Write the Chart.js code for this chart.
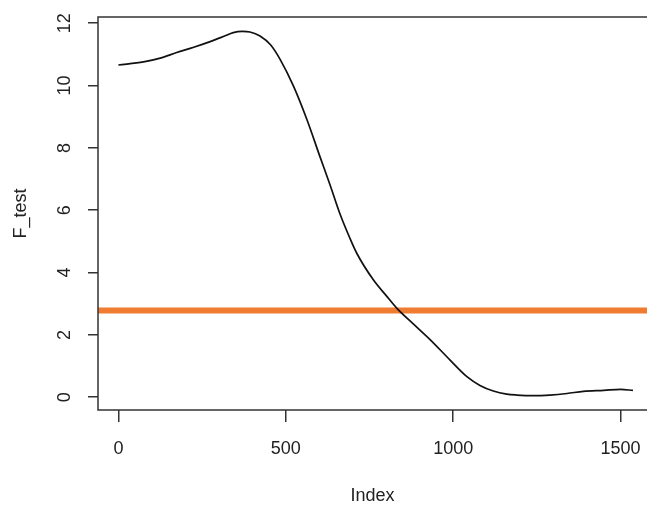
<!DOCTYPE html>
<html>
<head>
<meta charset="utf-8">
<script src="https://cdn.jsdelivr.net/npm/chart.js@4.4.0/dist/chart.umd.min.js"></script>
<style>
  html, body { margin: 0; padding: 0; background: #fff; }
  #wrap { width: 647px; height: 507px; }
</style>
</head>
<body>
<div id="wrap"><canvas id="myChartFtest"></canvas></div>
<script>
// data
const indexValues = [0, 75, 125, 174, 225, 274, 315, 343, 370, 393, 423, 455, 483, 523, 563, 602, 632, 662, 690, 712, 762, 800, 832, 880, 931, 990, 1041, 1080, 1120, 1160, 1190, 1240, 1289, 1340, 1389, 1450, 1500, 1537];
const fTestValues = [10.66, 10.76, 10.88, 11.06, 11.23, 11.41, 11.58, 11.70, 11.74, 11.72, 11.59, 11.30, 10.84, 9.98, 8.91, 7.72, 6.82, 5.88, 5.14, 4.62, 3.76, 3.26, 2.85, 2.36, 1.85, 1.20, 0.66, 0.38, 0.20, 0.10, 0.07, 0.05, 0.07, 0.12, 0.19, 0.22, 0.25, 0.22];
const threshold = 2.78;
const xTicks = [0, 500, 1000, 1500];
const yTicks = [0, 2, 4, 6, 8, 10, 12];

const xMin = -61, xMax = 1579;
const yMin = -0.41, yMax = 12.2;

let lineData = indexValues.map((x, i) => ({ x: x, y: fTestValues[i] }));
let thresholdData = [{ x: xMin, y: threshold }, { x: xMax, y: threshold }];

const axisColor = '#333';
const fontFamily = 'Arial, "Liberation Sans", sans-serif';

// box round the plot (top, left, bottom)
const boxPlugin = {
  id: 'box',
  afterDraw(chart) {
    const { ctx, chartArea } = chart;
    ctx.save();
    ctx.strokeStyle = axisColor;
    ctx.lineWidth = 1.5;
    ctx.beginPath();
    ctx.moveTo(chart.width + 2, chartArea.top);
    ctx.lineTo(chartArea.left, chartArea.top);
    ctx.lineTo(chartArea.left, chartArea.bottom);
    ctx.lineTo(chart.width + 2, chartArea.bottom);
    ctx.stroke();
    ctx.restore();
  }
};

// rotated y tick labels, like base R
const yLabelPlugin = {
  id: 'yLabels',
  afterDraw(chart) {
    const { ctx } = chart;
    const yScale = chart.scales.y;
    ctx.save();
    ctx.fillStyle = '#222';
    ctx.font = '18px ' + fontFamily;
    ctx.textAlign = 'center';
    ctx.textBaseline = 'middle';
    yScale.ticks.forEach(t => {
      const py = yScale.getPixelForValue(t.value);
      ctx.save();
      ctx.translate(65, py);
      ctx.rotate(-Math.PI / 2);
      ctx.fillText(String(t.value), 0, 0);
      ctx.restore();
    });
    ctx.restore();
  }
};

// config block
let config = {
  type: 'line',
  data: {
    datasets: [
      {
        label: 'F_test',
        data: lineData,
        borderColor: '#111',
        borderWidth: 1.7,
        pointRadius: 0,
        cubicInterpolationMode: 'monotone',
        fill: false,
      },
      {
        label: 'threshold',
        data: thresholdData,
        borderColor: '#F07C32',
        borderWidth: 6,
        pointRadius: 0,
        fill: false,
      },
    ],
  },
  options: {
    responsive: true,
    maintainAspectRatio: false,
    animation: false,
    layout: { padding: { top: 17, right: 0, left: 0, bottom: 0 } },
    plugins: {
      legend: { display: false },
      tooltip: { enabled: false },
    },
    scales: {
      x: {
        type: 'linear',
        min: xMin,
        max: xMax,
        afterBuildTicks: scale => { scale.ticks = xTicks.map(v => ({ value: v })); },
        afterFit: scale => {
          scale.height = 97;
          scale.paddingLeft = 0;
          scale.paddingRight = 0;
        },
        grid: { drawOnChartArea: false, drawTicks: true, tickLength: 12, color: axisColor, lineWidth: 1.5 },
        border: { display: false },
        ticks: { color: '#222', padding: 16, maxRotation: 0, font: { size: 18, family: fontFamily }, callback: v => String(v) },
        title: { display: true, text: 'Index', color: '#222', padding: { top: 0, bottom: 0 }, font: { size: 18, family: fontFamily } },
      },
      y: {
        min: yMin,
        max: yMax,
        afterBuildTicks: scale => { scale.ticks = yTicks.map(v => ({ value: v })); },
        afterFit: scale => { scale.width = 98; },
        grid: { drawOnChartArea: false, drawTicks: true, tickLength: 10, color: axisColor, lineWidth: 1.5 },
        border: { display: false },
        ticks: { display: false },
        title: { display: true, text: 'F_test', color: '#222', padding: { top: 10, bottom: 0 }, font: { size: 18, family: fontFamily } },
      },
    },
  },
  plugins: [boxPlugin, yLabelPlugin],
};

// render block
let myChart = new Chart(document.getElementById('myChartFtest'), config);
</script>
</body>
</html>
